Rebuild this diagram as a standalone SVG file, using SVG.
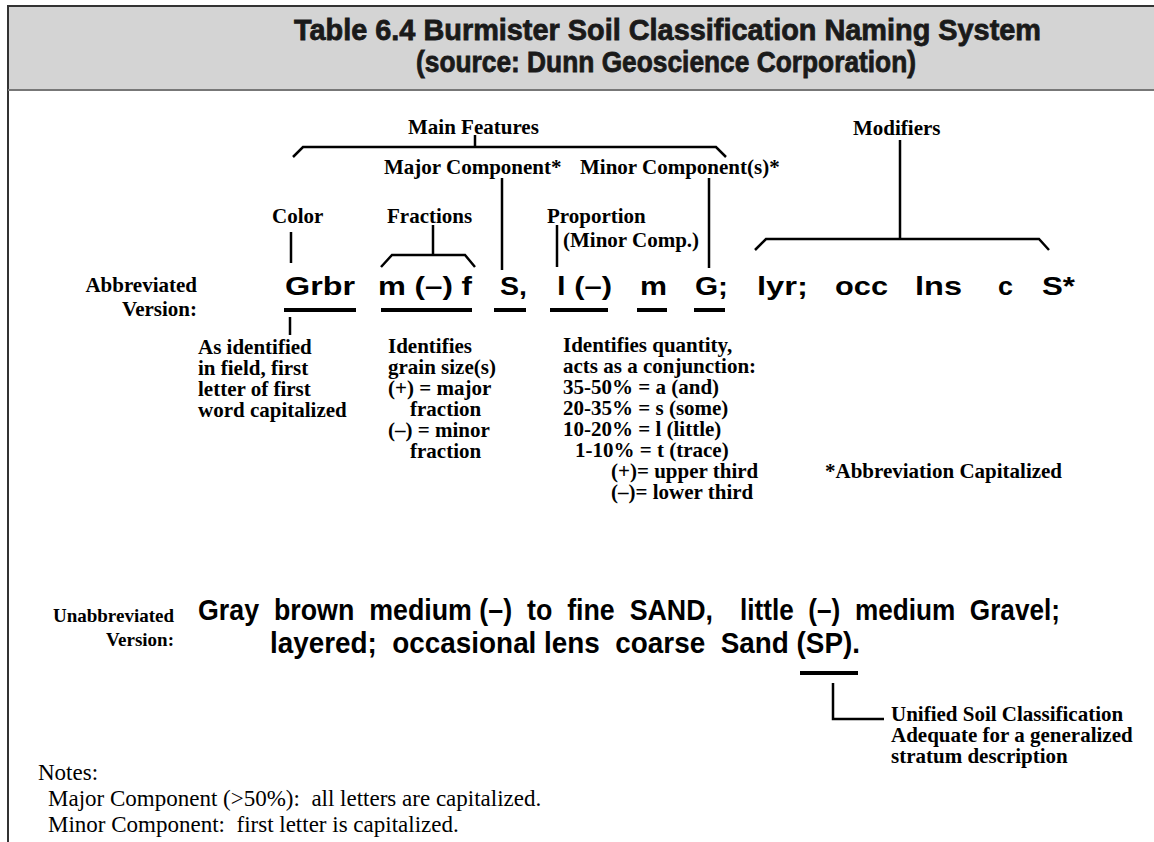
<svg xmlns="http://www.w3.org/2000/svg" width="1154" height="842" viewBox="0 0 1154 842">
<style>
.title{font-family:"Liberation Sans",Arial,sans-serif;font-weight:bold;font-size:30px;fill:#1a1a1a;stroke:#1a1a1a;stroke-width:0.8}
.lb{font-family:"Liberation Serif","Times New Roman",serif;font-weight:bold;font-size:21px;fill:#000}
.ab{font-family:"Liberation Sans",Arial,sans-serif;font-weight:bold;font-size:26px;fill:#000}
.un{font-family:"Liberation Sans",Arial,sans-serif;font-weight:bold;font-size:30px;fill:#000}
.nt{font-family:"Liberation Serif","Times New Roman",serif;font-size:23px;fill:#000}
.ln{fill:none;stroke:#000;stroke-width:2.5;stroke-linejoin:miter}
.ul{fill:#000}
</style>
<rect x="0" y="0" width="1154" height="842" fill="#fff"/>
<g id="header">
<rect x="8" y="6" width="1150" height="84" fill="#d4d4d4"/>
<path d="M1154 6 H8 V842" fill="none" stroke="#333" stroke-width="2"/>
<line x1="8" y1="90" x2="1154" y2="90" stroke="#777" stroke-width="2"/>
<text class="title" x="294" y="40" textLength="747" lengthAdjust="spacingAndGlyphs">Table 6.4  Burmister Soil Classification Naming System</text>
<text class="title" x="416" y="72" textLength="500" lengthAdjust="spacingAndGlyphs">(source: Dunn Geoscience Corporation)</text>
</g>
<g id="connectors">
<polyline class="ln" points="293,157 303,147 716,147 726,157"/>
<line class="ln" x1="475" y1="135" x2="475" y2="147"/>
<polyline class="ln" points="755,250 766,239 1039,239 1049,250"/>
<line class="ln" x1="900" y1="140" x2="900" y2="239"/>
<line class="ln" x1="502" y1="178" x2="502" y2="270"/>
<line class="ln" x1="709" y1="178" x2="709" y2="268"/>
<line class="ln" x1="291" y1="232" x2="291" y2="263"/>
<line class="ln" x1="433" y1="225" x2="433" y2="255"/>
<polyline class="ln" points="381,267 392,255 465,255 475,267"/>
<line class="ln" x1="557" y1="225" x2="557" y2="267"/>
<line class="ln" x1="290" y1="317" x2="290" y2="335"/>
<polyline class="ln" points="833,683 833,719 884,719"/>
<rect class="ul" x="284" y="308" width="72" height="4"/>
<rect class="ul" x="381" y="308" width="91" height="4"/>
<rect class="ul" x="494" y="308" width="32" height="4"/>
<rect class="ul" x="550" y="308" width="58" height="4"/>
<rect class="ul" x="637" y="308" width="30" height="4"/>
<rect class="ul" x="694" y="308" width="31" height="4"/>
<rect class="ul" x="800" y="671" width="58" height="4"/>
</g>
<g id="main-features"><text class="lb" x="408" y="134">Main Features</text></g>
<g id="modifiers"><text class="lb" x="853" y="135">Modifiers</text></g>
<g id="major-component"><text class="lb" x="384" y="174">Major Component*</text></g>
<g id="minor-component"><text class="lb" x="580" y="174">Minor Component(s)*</text></g>
<g id="color"><text class="lb" x="272" y="223">Color</text></g>
<g id="fractions"><text class="lb" x="387" y="223">Fractions</text></g>
<g id="proportion"><text class="lb" x="547" y="223">Proportion<tspan x="563" y="247">(Minor Comp.)</tspan></text></g>
<g id="abbrev-label"><text class="lb" text-anchor="end" x="197" y="292">Abbreviated<tspan x="197" y="316">Version:</tspan></text></g>
<g id="abbrev">
<text class="ab" x="285" y="295" textLength="70" lengthAdjust="spacingAndGlyphs">Grbr</text>
<text class="ab" x="378" y="295" textLength="94" lengthAdjust="spacingAndGlyphs">m (–) f</text>
<text class="ab" x="500" y="295" textLength="27" lengthAdjust="spacingAndGlyphs">S,</text>
<text class="ab" x="557" y="295" textLength="55" lengthAdjust="spacingAndGlyphs">l (–)</text>
<text class="ab" x="640" y="295" textLength="27" lengthAdjust="spacingAndGlyphs">m</text>
<text class="ab" x="695" y="295" textLength="33" lengthAdjust="spacingAndGlyphs">G;</text>
<text class="ab" x="757" y="295" textLength="51" lengthAdjust="spacingAndGlyphs">lyr;</text>
<text class="ab" x="835" y="295" textLength="53" lengthAdjust="spacingAndGlyphs">occ</text>
<text class="ab" x="915" y="295" textLength="47" lengthAdjust="spacingAndGlyphs">lns</text>
<text class="ab" x="998" y="295" textLength="15" lengthAdjust="spacingAndGlyphs">c</text>
<text class="ab" x="1042" y="295" textLength="33" lengthAdjust="spacingAndGlyphs">S*</text>
</g>
<g id="color-note">
<text class="lb" x="198" y="354">As identified<tspan x="198" dy="21">in field, first</tspan><tspan x="198" dy="21">letter of first</tspan><tspan x="198" dy="21">word capitalized</tspan></text>
</g>
<g id="fraction-note">
<text class="lb" x="388" y="353">Identifies<tspan x="388" dy="21">grain size(s)</tspan><tspan x="388" dy="21">(+) = major</tspan><tspan x="410" dy="21">fraction</tspan><tspan x="388" dy="21">(–) = minor</tspan><tspan x="410" dy="21">fraction</tspan></text>
</g>
<g id="proportion-note">
<text class="lb" x="563" y="352">Identifies quantity,<tspan x="563" dy="21">acts as a conjunction:</tspan><tspan x="563" dy="21">35-50% = a (and)</tspan><tspan x="563" dy="21">20-35% = s (some)</tspan><tspan x="563" dy="21">10-20% = l (little)</tspan><tspan x="575" dy="21">1-10% = t (trace)</tspan><tspan x="611" dy="21">(+)= upper third</tspan><tspan x="611" dy="21">(–)= lower third</tspan></text>
</g>
<g id="abbrev-cap"><text class="lb" x="825" y="478">*Abbreviation Capitalized</text></g>
<g id="unabbrev-label"><text class="lb" style="font-size:19px" text-anchor="end" x="174" y="622">Unabbreviated<tspan x="174" y="646">Version:</tspan></text></g>
<g id="unabbrev">
<text class="un" x="198" y="620" textLength="515" lengthAdjust="spacingAndGlyphs" xml:space="preserve">Gray  brown  medium (–)  to  fine  SAND,</text>
<text class="un" x="740" y="620" textLength="320" lengthAdjust="spacingAndGlyphs" xml:space="preserve">little  (–)  medium  Gravel;</text>
<text class="un" x="270" y="653" textLength="590" lengthAdjust="spacingAndGlyphs" xml:space="preserve">layered;  occasional lens  coarse  Sand (SP).</text>
</g>
<g id="uscs-note">
<text class="lb" x="891" y="721">Unified Soil Classification<tspan x="891" dy="21">Adequate for a generalized</tspan><tspan x="891" dy="21">stratum description</tspan></text>
</g>
<g id="notes">
<text class="nt" x="38" y="780">Notes:</text>
<text class="nt" x="48" y="806" xml:space="preserve">Major Component (&gt;50%):  all letters are capitalized.</text>
<text class="nt" x="48" y="832" xml:space="preserve">Minor Component:  first letter is capitalized.</text>
</g>
</svg>
